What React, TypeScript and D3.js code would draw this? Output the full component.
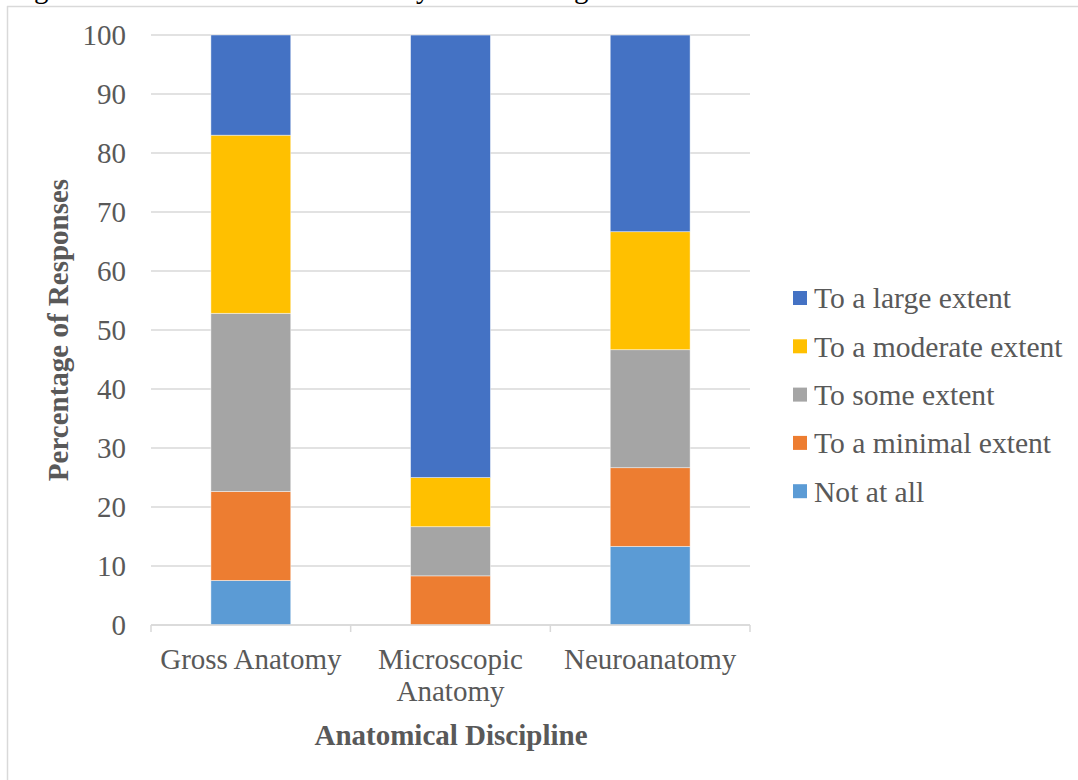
import React from "react";
import * as d3 from "d3";

const categories = ["Gross Anatomy", "Microscopic Anatomy", "Neuroanatomy"];
const categoryLines = [["Gross Anatomy"], ["Microscopic", "Anatomy"], ["Neuroanatomy"]];
const seriesNames = ["Not at all", "To a minimal extent", "To some extent", "To a moderate extent", "To a large extent"];
const notAtAll = [7.55, 0, 13.33];
const minimal = [15.09, 8.33, 13.33];
const some = [30.19, 8.33, 20.0];
const moderate = [30.19, 8.33, 20.0];
const large = [16.98, 75.0, 33.33];
const seriesColors = ["#5B9BD5", "#ED7D31", "#A5A5A5", "#FFC000", "#4472C4"];
const yTicks = [0, 10, 20, 30, 40, 50, 60, 70, 80, 90, 100];

export default function App() {
  const W = 1078, H = 780;
  const left = 151, right = 750, top = 35, bottom = 625;
  const font = "'Liberation Serif', 'Times New Roman', serif";
  const textColor = "#595959";
  const fs = 29;

  const values = [notAtAll, minimal, some, moderate, large];
  const rows = categories.map((c, i) => {
    const r: any = { cat: c };
    seriesNames.forEach((s, j) => (r[s] = values[j][i]));
    return r;
  });
  const stacked = d3.stack().keys(seriesNames)(rows);

  const x = d3.scaleBand().domain(categories).range([left, right]).paddingInner(0.6).paddingOuter(0.3);
  const xOuter = d3.scaleBand().domain(categories).range([left, right]);
  const y = d3.scaleLinear().domain([0, 100]).range([bottom, top]);

  const legendOrder = [...seriesNames].reverse();

  return (
    <svg width={W} height={H} style={{ position: "absolute", left: 0, top: 0, background: "#fff" }}>
      {/* clipped caption descenders (caption above the chart is cut off in the source) */}
      <g fontFamily={font} fontSize={fs} fill="#000">
        <text x={34} y={-2}>g</text>
        <text x={416} y={-2}>y</text>
        <text x={574} y={-2}>g</text>
      </g>
      {/* chart frame */}
      <line x1={7} x2={W} y1={6.5} y2={6.5} stroke="#D9D9D9" strokeWidth={1.5} />
      <line x1={7.5} x2={7.5} y1={6} y2={H} stroke="#D9D9D9" strokeWidth={1.5} />

      {/* gridlines */}
      {yTicks.map((t) => (
        <line key={t} x1={left} x2={right} y1={y(t)} y2={y(t)} stroke="#D9D9D9" strokeWidth={1.5} />
      ))}
      {/* y tick labels */}
      {yTicks.map((t) => (
        <text key={"l" + t} x={126} y={y(t)} dy="0.35em" textAnchor="end" fontFamily={font} fontSize={fs} fill={textColor}>
          {t}
        </text>
      ))}

      {/* bars */}
      {stacked.map((s, si) => (
        <g key={s.key} fill={seriesColors[si]}>
          {s.map((d: any, i: number) =>
            d[1] - d[0] > 0 ? (
              <rect
                key={i}
                x={x(categories[i])}
                width={x.bandwidth()}
                y={y(d[1])}
                height={y(d[0]) - y(d[1])}
                stroke="#ffffff"
                strokeOpacity={0.6}
                strokeWidth={0.75}
              />
            ) : null
          )}
        </g>
      ))}

      {/* x axis */}
      <line x1={left} x2={right} y1={bottom} y2={bottom} stroke="#D9D9D9" strokeWidth={1.5} />
      {categories.map((c) => (
        <line key={"t" + c} x1={xOuter(c)!} x2={xOuter(c)!} y1={bottom} y2={bottom + 7} stroke="#D9D9D9" strokeWidth={1.5} />
      ))}
      <line x1={right} x2={right} y1={bottom} y2={bottom + 7} stroke="#D9D9D9" strokeWidth={1.5} />
      {categories.map((c, i) => (
        <text key={"c" + c} textAnchor="middle" fontFamily={font} fontSize={fs} fill={textColor}>
          {categoryLines[i].map((ln, k) => (
            <tspan key={k} x={xOuter(c)! + xOuter.bandwidth() / 2} y={669 + k * 32}>
              {ln}
            </tspan>
          ))}
        </text>
      ))}

      {/* axis titles */}
      <text x={451} y={745} textAnchor="middle" fontFamily={font} fontSize={29} fontWeight="bold" fill={textColor}>
        Anatomical Discipline
      </text>
      <text
        transform={`translate(68, ${(top + bottom) / 2}) rotate(-90)`}
        textAnchor="middle"
        fontFamily={font}
        fontSize={29}
        fontWeight="bold"
        fill={textColor}
      >
        Percentage of Responses
      </text>

      {/* legend */}
      {legendOrder.map((name, i) => {
        const ci = seriesNames.indexOf(name);
        const cy = 298 + i * 48.3;
        return (
          <g key={name}>
            <rect x={793} y={cy - 7} width={14} height={14} fill={seriesColors[ci]} />
            <text x={814} y={cy} dy="0.35em" fontFamily={font} fontSize={29.6} fill={textColor}>
              {name}
            </text>
          </g>
        );
      })}
    </svg>
  );
}
